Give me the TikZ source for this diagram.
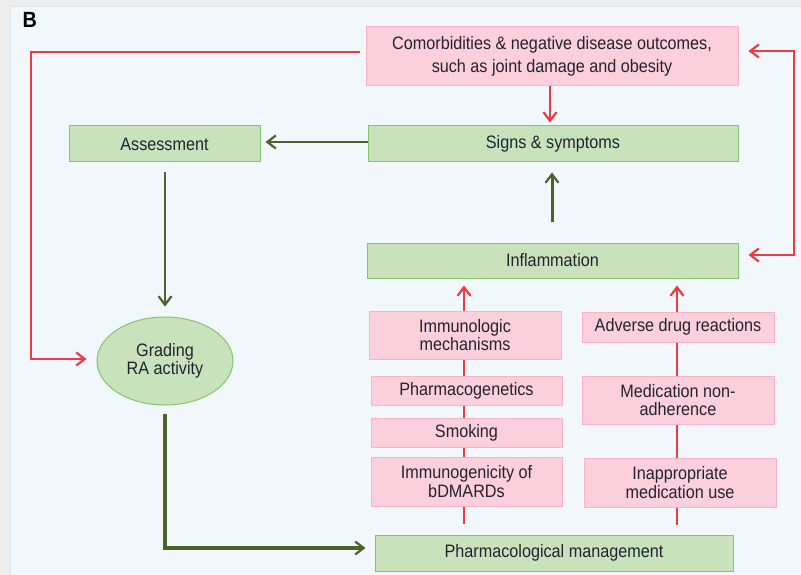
\documentclass[tikz,border=0pt]{standalone}
\usepackage{fontspec}
\setmainfont[FakeStretch=0.9]{Liberation Sans}
\usetikzlibrary{arrows.meta,calc,shapes.geometric}
\definecolor{redc}{RGB}{238,58,67}
\definecolor{dgreen}{RGB}{72,100,42}
\definecolor{gfill}{RGB}{200,226,188}
\definecolor{gdraw}{RGB}{132,196,112}
\definecolor{pfill}{RGB}{251,207,219}
\definecolor{pdraw}{RGB}{246,180,198}
\definecolor{txt}{RGB}{35,35,50}
\definecolor{panel}{RGB}{242,247,251}
\definecolor{outside}{RGB}{236,236,236}
\pgfdeclarelayer{back}
\pgfdeclarelayer{background}
\pgfsetlayers{back,background,main}
\begin{document}
\begin{tikzpicture}[x=1pt,y=-1pt,
  base/.style={draw,line width=1pt,text=txt,inner sep=0pt,align=center,font=\fontsize{18}{18.5}\selectfont},
  gbox/.style={base,fill=gfill,draw=gdraw,rectangle},
  pbox/.style={base,fill=pfill,draw=pdraw,rectangle},
  sz/.style 2 args={minimum width=#1pt,minimum height=#2pt},
  tip/.style={-{Straight Barb[length=8.5pt,width=13pt,line width=2.2pt]}},
  rline/.style={draw=redc,line width=2.3pt},
  gline/.style={draw=dgreen,line width=2.6pt},
]
\useasboundingbox (0,0) rectangle (801,575);
\begin{pgfonlayer}{back}
\fill[outside] (0,0) rectangle (801,575);
\fill[panel] (10,6) rectangle (801,575);
\draw[line width=0.8pt,draw={rgb,255:red,222;green,230;blue,238}] (10,575) -- (10,6) -- (801,6);
\end{pgfonlayer}
\node[anchor=west,font=\fontsize{22}{22}\selectfont\bfseries,text=black] (lbl) at (19,20) {B};

\node[pbox,sz={372}{59},font=\fontsize{18}{23}\selectfont] (com) at (552,56.5) {Comorbidities \& negative disease outcomes,\\such as joint damage and obesity};
\node[gbox,sz={370}{36}] (signs) at (553,144) {Signs \& symptoms};
\node[gbox,sz={191}{36}] (assess) at (164.5,144) {Assessment};
\node[gbox,sz={371}{35}] (infl) at (552.5,260.5) {Inflammation};
\node[pbox,sz={192}{48}] (immuno) at (465,335) {Immunologic\\mechanisms};
\node[pbox,sz={191}{29}] (pgen) at (466.5,390.5) {Pharmacogenetics};
\node[pbox,sz={191}{29}] (smoke) at (466.5,432.5) {Smoking};
\node[pbox,sz={191}{49}] (immgen) at (466.5,481.5) {Immunogenicity of\\bDMARDs};
\node[pbox,sz={192}{30}] (adr) at (678,327) {Adverse drug reactions};
\node[pbox,sz={192}{48}] (nonadh) at (678,400) {Medication non-\\adherence};
\node[pbox,sz={192}{49}] (inappr) at (680,482.5) {Inappropriate\\medication use};
\node[gbox,sz={358}{36}] (pman) at (554,553) {Pharmacological management};
\node[base,ellipse,fill=gfill,draw=gdraw,sz={136}{88}] (grade) at (165,361) {Grading\\RA activity};

\coordinate (redL) at (31,200);
\coordinate (redR) at (794,150);

\draw[rline,tip] ($(com.west)+(-6,-4.5)$) -| (redL) |- ($(grade.west)+(-10,-2)$);
\draw[rline,{Straight Barb[length=8.5pt,width=13pt,line width=2.2pt]}-{Straight Barb[length=8.5pt,width=13pt,line width=2.2pt]}]
  ($(com.east)+(10,-5.5)$) -| (redR) |- ($(infl.east)+(10,-5.5)$);
\draw[rline,tip] ($(com.south)+(-2,0)$) -- ($(signs.north)+(-3,-3)$);

\draw[gline,tip] ($(signs.west)+(0,-2)$) -- ($(assess.east)+(5,-2)$);
\draw[gline,tip] ($(assess.south)+(0.5,10)$) -- ($(grade.north)+(0,-10)$);
\draw[gline,line width=3pt,tip] ($(infl.north)+(-0.5,-21)$) -- ($(signs.south)+(-1,10)$);
\draw[gline,line width=3.5pt,tip] ($(grade.south)+(0,8)$) |- ($(pman.west)+(-9,-5)$);

\begin{pgfonlayer}{background}
\draw[rline,tip] ($(immgen.south)+(-2.5,17)$) -- ($(immgen.south |- infl.south)+(-2.5,7)$);
\draw[rline,tip] ($(inappr.south)+(-3,17)$) -- ($(inappr.south |- infl.south)+(-3,7)$);
\end{pgfonlayer}
\end{tikzpicture}
\end{document}
